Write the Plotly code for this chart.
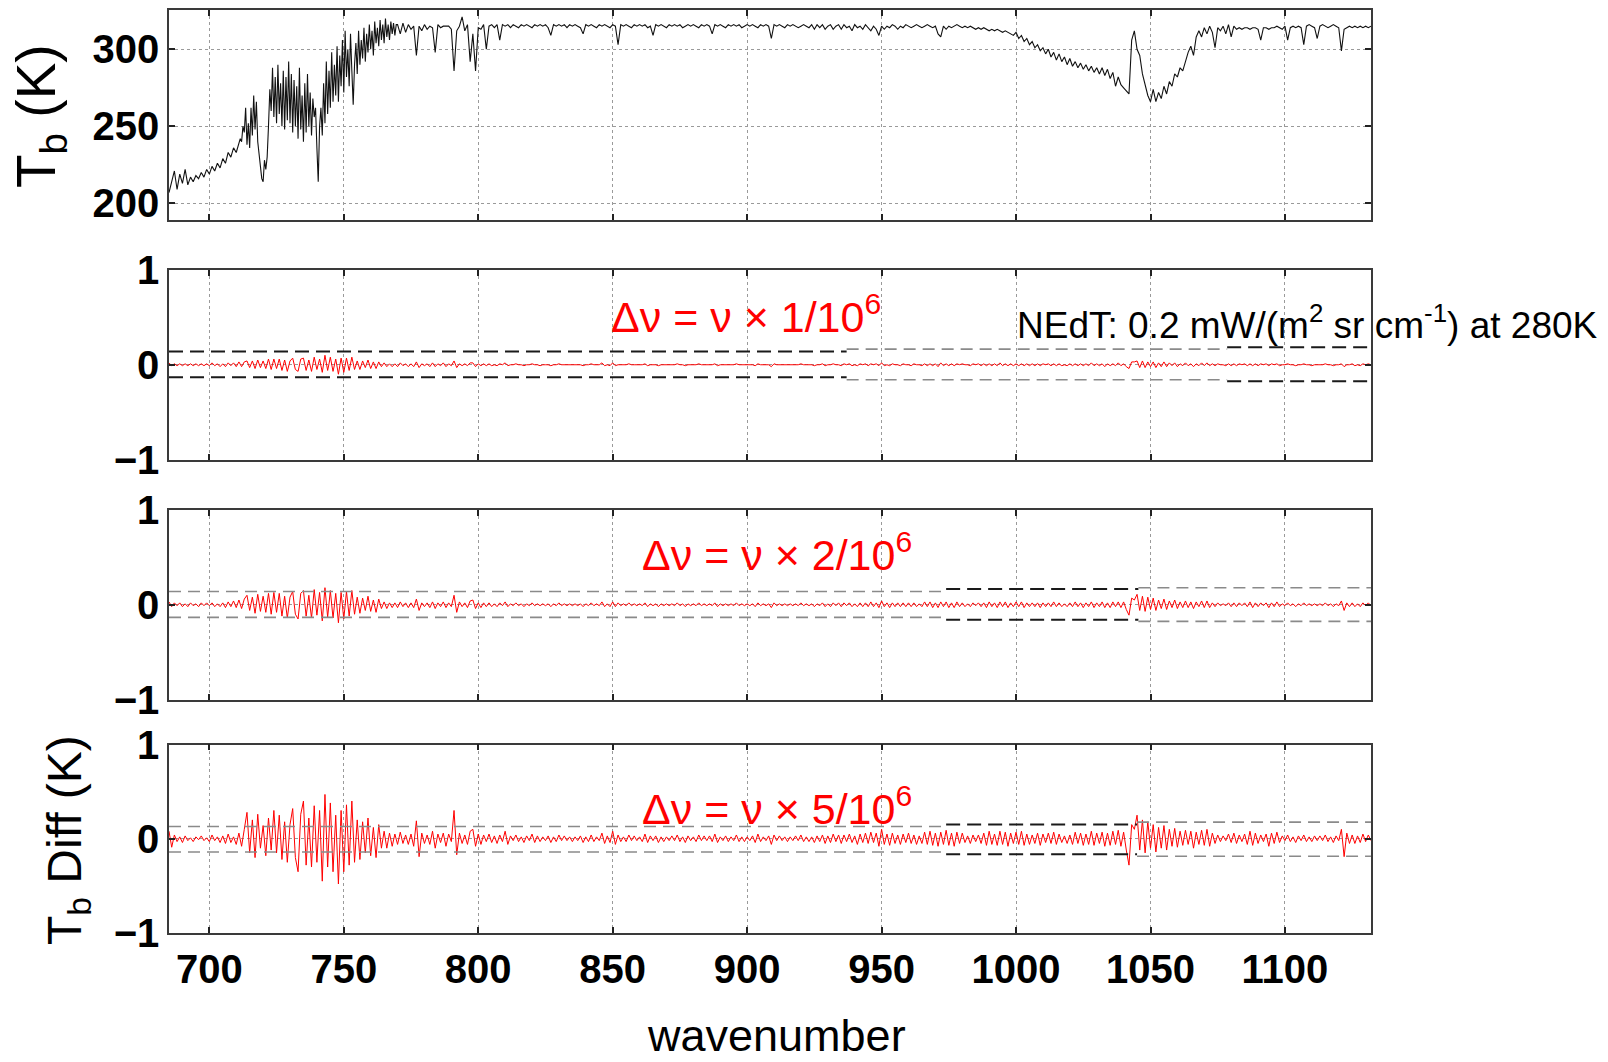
import numpy as np
import plotly.graph_objects as go

# ---------------- data ----------------
X_RANGE = [685.0, 1132.0]
X_TICKS = [700, 750, 800, 850, 900, 950, 1000, 1050, 1100]
TB_TICKS = [200, 250, 300]
TB_RANGE = [189.5, 325.5]
DIFF_TICKS = [-1, 0, 1]
DIFF_RANGE = [-1, 1]

# brightness temperature (K)
# 685 .. 709, every 1 cm-1
TB_A_START, TB_A_STEP = 685.0, 1.0
TB_A = [
    207, 214, 221, 209, 219, 213, 222, 212, 217, 214,
    218, 216, 220, 217, 222, 219, 224, 221, 226, 223,
    229, 226, 233, 230, 236,
]
# 710 .. 769.5, every 0.5 cm-1 (dense CO2 line region)
TB_B_START, TB_B_STEP = 710.0, 0.5
TB_B = [
    233, 236, 238, 242, 240, 250, 246, 262, 238, 252,   # 710
    236, 262, 244, 270, 248, 266, 240, 232, 222, 216,   # 715
    214, 228, 222, 230, 250, 274, 260, 288, 256, 282,   # 720
    252, 290, 258, 278, 250, 286, 248, 282, 254, 292,   # 725
    252, 284, 246, 280, 250, 276, 242, 288, 248, 270,   # 730
    240, 278, 246, 284, 250, 272, 244, 268, 256, 262,   # 735
    236, 214, 250, 262, 244, 278, 252, 292, 258, 286,   # 740
    262, 298, 266, 290, 270, 302, 266, 296, 276, 306,   # 745
    272, 312, 282, 300, 276, 310, 286, 264, 290, 304,   # 750
    284, 312, 290, 306, 294, 314, 292, 310, 298, 316,   # 755
    300, 312, 296, 318, 304, 314, 302, 319, 306, 316,   # 760
    304, 320, 308, 316, 306, 318, 310, 317, 309, 316,   # 765
]
# 770 .. 1132, every 1 cm-1
TB_C_START, TB_C_STEP = 770.0, 1.0
TB_C = [
    316, 310, 317, 311, 316,                            # 770
    313, 315, 296, 315, 312, 316, 313, 315, 314, 298,   # 775
    316, 314, 315, 315, 315, 313, 286, 312, 315, 321,   # 785
    312, 316, 292, 310, 286, 314, 313, 316, 300, 315,   # 795
    316, 314, 316, 306, 316, 315, 316, 314, 316, 315,   # 805
    314, 316, 315, 316, 315, 314, 316, 315, 316, 315,   # 815
    316, 314, 309, 316, 315, 316, 315, 316, 314, 316,   # 825
    315, 316, 315, 314, 310, 316, 315, 316, 315, 314,   # 835
    316, 315, 316, 315, 314, 316, 315, 303, 316, 315,   # 845
    316, 315, 314, 316, 315, 316, 315, 316, 314, 315,   # 855
    309, 316, 315, 316, 315, 314, 316, 315, 316, 315,   # 865
    316, 314, 315, 316, 315, 316, 315, 314, 316, 315,   # 875
    316, 315, 310, 316, 315, 316, 315, 314, 316, 315,   # 885
    316, 315, 316, 314, 315, 316, 315, 316, 315, 314,   # 895
    316, 315, 316, 315, 307, 316, 315, 316, 315, 314,   # 905
    316, 315, 316, 315, 314, 315, 316, 315, 314, 316,   # 915
    313, 316, 314, 316, 313, 315, 316, 313, 315, 316,   # 925
    313, 316, 314, 315, 312, 316, 314, 315, 313, 316,   # 935
    314, 312, 315, 313, 309, 315, 313, 315, 314, 316,   # 945
    315, 313, 315, 314, 316, 315, 314, 315, 316, 315,   # 955
    314, 315, 316, 315, 314, 315, 310, 308, 315, 313,   # 965
    315, 314, 315, 316, 315, 314, 315, 314, 315, 314,   # 975
    313, 314, 313, 314, 313, 312, 313, 312, 313, 312,   # 985
    311, 312, 311, 310, 309, 311, 307, 309, 305, 307,   # 995
    303, 305, 301, 303, 299, 301, 297, 300, 295, 298,   # 1005
    293, 297, 292, 295, 290, 294, 289, 292, 288, 291,   # 1015
    287, 290, 286, 289, 285, 288, 284, 288, 283, 287,   # 1025
    281, 285, 276, 282, 277, 275, 273, 271, 306, 312,   # 1035
    300, 296, 284, 276, 270, 266, 274, 266, 272, 268,   # 1045
    276, 271, 279, 276, 284, 282, 288, 286, 293, 298,   # 1055
    302, 296, 308, 312, 308, 314, 310, 315, 311, 301,   # 1065
    314, 312, 315, 310, 316, 308, 315, 313, 314, 313,   # 1075
    314, 314, 313, 314, 314, 313, 306, 314, 314, 313,   # 1085
    314, 314, 315, 314, 313, 315, 306, 314, 315, 314,   # 1095
    315, 314, 303, 315, 316, 315, 314, 307, 315, 316,   # 1105
    315, 314, 315, 316, 315, 314, 299, 313, 314, 315,   # 1115
    314, 315, 314, 315, 314, 315, 314, 315,             # 1125
]

# Tb differences in units of 0.01 K, one value per wavenumber from 685
D_START, D_STEP = 685.0, 1.0
# dnu = nu x 1/1e6
D1 = [
    2, -1, 1, -1, 1, -1, 1, -1, 1, -1,
    1, -1, 1, -1, 1, -1, 2, -1, 1, -2,
    1, -2, 2, -1, 2, -2, 3, -2, 3, 4,
    -3, 4, -4, 5, -3, 4, -4, 6, -5, 6,
    -4, 6, -6, 5, -7, 4, 7, -5, -7, 6,
    7, -6, 5, -7, 8, -5, 6, -8, 10, -6,
    8, -7, 6, -10, 7, -8, 7, -6, 8, -5,
    4, -5, 4, -3, 5, -4, 3, -4, 3, -2,
    2, -2, 1, -2, 1, -2, 2, -1, 1, -2,
    1, -2, 3, -3, 1, -1, 1, -2, 2, -2,
    1, -1, 2, -2, 1, -1, 4, -3, 1, -1,
    1, -1, 2, 2, -2, 1, -1, 1, -1, 1,
    -1, 0, -1, 1, 0, 2, -1, 0, 0, 1,
    0, 0, -1, 0, 0, 1, 0, 0, -1, 0,
    0, 0, -1, 0, 0, 1, 0, 0, 0, 0,
    0, 0, 0, 0, -1, 0, 0, 1, 0, 0,
    0, 2, -1, 0, -1, 2, -1, 0, 0, 0,
    0, 1, 0, 0, 0, 0, 0, 1, -1, 0,
    0, 0, -1, 0, 0, 0, 0, 0, 0, 1,
    0, 0, -1, 0, 0, 0, 0, 1, 0, 0,
    0, 0, 0, 1, -1, 0, 0, 0, 0, 0,
    0, 1, 0, 0, 0, 0, 0, 0, -1, 1,
    0, 0, 0, 0, -2, 1, 0, 0, 0, 0,
    0, 0, 0, 0, 0, 1, 0, 0, 0, 0,
    -1, 0, 0, 1, -1, 0, 0, 1, 0, 0,
    -1, 1, 0, 1, -1, 0, -1, 1, 0, 1,
    -1, 1, 0, 1, -1, 2, -1, 0, -1, 1,
    0, 0, -1, 1, 0, 0, -1, 1, 0, 0,
    -1, 1, -1, 1, -1, 1, -2, 2, -1, 1,
    -1, 1, -1, 1, 0, 1, 0, 0, -1, 1,
    0, 1, -1, 1, -1, 1, -1, 1, -1, 2,
    -1, 1, -1, 1, -1, 1, -1, 1, -1, 1,
    -1, 1, -1, 1, -1, 1, 0, 1, -1, 1,
    -1, 1, -1, 0, -1, 1, -1, 1, -1, 1,
    -1, 1, -1, 2, -1, 1, -1, 1, -2, 1,
    -1, 1, -1, 2, -1, 1, -2, -4, 3, 3,
    4, -3, 4, -3, 3, -2, 3, -3, 2, -2,
    3, -2, 2, -1, 2, -2, 1, -1, 2, -1,
    1, -2, 1, -1, 2, -1, 2, -1, 1, -1,
    1, 0, 0, -1, 1, -1, 1, -1, 1, 0,
    1, -1, 1, -1, 1, -1, 1, 0, 1, -1,
    1, 0, 1, -1, 0, 0, 1, 0, 0, -1,
    0, 0, 1, 0, 0, -1, 0, 0, 0, 0,
    1, 0, 0, -1, 0, 0, 1, -2, 0, 0,
    1, -1, 0, -1, 1, 0, 1, 0,
]

# dnu = nu x 2/1e6
D2 = [
    3, -2, 2, -1, 2, -2, 1, -2, 2, -1,
    1, -2, 2, -1, 2, -1, 2, -2, 1, -2,
    2, -3, 3, -2, 4, -3, 5, -4, 6, 10,
    -6, 8, -9, 11, -7, 9, -8, 12, -10, 13,
    -8, 12, -12, 9, -14, 8, 14, -10, -15, 12,
    15, -12, 10, -14, 16, -11, 13, -17, 18, -13,
    15, -14, 12, -19, 13, -15, 14, -12, 15, -10,
    8, -9, 7, -6, 9, -7, 5, -8, 6, -4,
    3, -4, 2, -3, 2, -3, 3, -2, 2, -3,
    2, -3, 6, -6, 2, -2, 2, -3, 3, -4,
    2, -2, 3, -3, 2, -2, 10, -8, 3, -2,
    2, -3, 4, 5, -4, 2, -3, 2, -2, 2,
    -2, 1, -2, 2, -1, 3, -2, 1, -1, 2,
    -1, 1, -2, 1, -1, 2, -1, 1, -1, 1,
    -1, 1, -2, 1, -1, 2, -1, 1, -1, 1,
    -1, 1, -1, 1, -2, 1, -1, 2, -1, 1,
    -1, 3, -2, 1, -2, 3, -2, 2, -1, 1,
    -1, 2, -1, 1, -1, 1, -1, 2, -2, 1,
    -1, 1, -2, 1, -1, 1, -1, 1, -1, 2,
    -1, 1, -2, 1, -1, 1, -1, 2, -1, 1,
    -1, 1, -1, 2, -2, 1, -1, 1, -1, 1,
    -1, 2, -1, 1, -1, 1, -1, 1, -2, 2,
    -1, 1, -1, 1, -3, 2, -1, 1, -1, 1,
    -1, 1, -1, 1, -1, 2, -1, 1, -1, 1,
    -2, 1, -1, 2, -2, 1, -2, 2, -1, 2,
    -2, 2, -1, 2, -2, 1, -2, 2, -2, 2,
    -2, 3, -2, 2, -3, 4, -2, 2, -3, 2,
    -2, 2, -2, 2, -2, 2, -2, 2, -2, 1,
    -2, 3, -2, 3, -3, 2, -3, 3, -2, 3,
    -3, 2, -3, 3, -2, 2, -2, 1, -2, 2,
    -1, 2, -2, 2, -3, 3, -2, 2, -3, 3,
    -2, 3, -3, 2, -2, 3, -2, 3, -3, 2,
    -2, 2, -2, 2, -3, 2, -2, 2, -2, 3,
    -2, 2, -2, 1, -2, 2, -2, 3, -2, 2,
    -3, 2, -2, 3, -3, 2, -2, 3, -3, 2,
    -3, 3, -2, 3, -3, 3, -5, -11, 7, 5,
    11, -6, 9, -7, 8, -5, 7, -6, 5, -4,
    6, -5, 4, -3, 5, -4, 3, -3, 4, -3,
    3, -4, 3, -2, 4, -3, 4, -3, 2, -2,
    2, -1, 1, -1, 2, -2, 2, -2, 2, -1,
    2, -2, 3, -3, 2, -2, 2, -1, 2, -3,
    2, -2, 3, -2, 1, -1, 2, -1, 1, -2,
    1, -1, 2, -1, 1, -1, 1, -1, 1, -1,
    2, -1, 1, -2, 1, -1, 4, -6, 2, -2,
    2, -2, 1, -2, 2, -1, 2, -1,
]

# dnu = nu x 5/1e6
D5 = [
    8, -9, 4, -3, 2, -4, 3, -2, 1, -3,
    2, -1, 3, -2, 1, -3, 4, -2, 2, -4,
    3, -5, 5, -4, 2, -6, 6, -8, 10, 28,
    -15, 20, -20, 26, -10, 14, -18, 22, -12, 30,
    -15, 25, -22, 18, -25, 15, 32, -20, -35, 26,
    40, -28, 22, -30, 35, -25, 30, -45, 47, -30,
    38, -35, 25, -48, 30, -35, 36, -28, 40, -25,
    20, -22, 18, -15, 22, -18, 12, -20, 15, -10,
    8, -10, 6, -8, 5, -6, 7, -5, 4, -6,
    5, -8, 19, -19, 6, -5, 4, -6, 8, -10,
    5, -4, 6, -8, 5, -3, 30, -17, 6, -5,
    4, -6, 8, 10, -8, 5, -6, 4, -3, 5,
    -4, 3, -5, 4, -3, 8, -6, 3, -2, 4,
    -3, 2, -4, 3, -2, 5, -4, 3, -3, 2,
    -2, 3, -4, 2, -3, 4, -2, 3, -2, 2,
    -3, 2, -2, 3, -4, 2, -3, 4, -3, 2,
    -2, 6, -5, 3, -4, 8, -6, 4, -3, 2,
    -3, 4, -2, 3, -2, 2, -3, 5, -4, 3,
    -2, 3, -4, 2, -3, 2, -2, 3, -2, 4,
    -3, 2, -4, 3, -2, 2, -3, 4, -2, 3,
    -2, 3, -3, 5, -4, 2, -2, 3, -3, 2,
    -2, 4, -3, 2, -3, 2, -2, 3, -4, 5,
    -3, 2, -2, 3, -6, 4, -2, 3, -2, 2,
    -3, 2, -2, 3, -2, 4, -3, 2, -3, 2,
    -4, 3, -3, 4, -5, 3, -4, 5, -3, 4,
    -5, 4, -3, 5, -4, 3, -6, 5, -4, 6,
    -5, 7, -4, 6, -8, 10, -6, 5, -7, 6,
    -5, 4, -6, 5, -4, 6, -5, 4, -6, 3,
    -5, 7, -6, 8, -7, 6, -8, 7, -6, 9,
    -7, 6, -8, 7, -5, 6, -4, 3, -5, 4,
    -3, 4, -5, 6, -7, 8, -6, 5, -7, 8,
    -6, 7, -8, 6, -5, 7, -6, 8, -7, 5,
    -6, 4, -5, 6, -7, 5, -4, 6, -5, 7,
    -6, 5, -4, 3, -5, 4, -6, 7, -5, 6,
    -7, 5, -6, 8, -7, 6, -5, 7, -8, 6,
    -7, 8, -6, 9, -8, 7, -12, -28, 15, 10,
    25, -12, 20, -15, 18, -10, 15, -14, 12, -10,
    14, -12, 10, -8, 11, -9, 8, -7, 9, -6,
    8, -10, 7, -6, 9, -7, 10, -8, 6, -5,
    4, -3, 3, -2, 5, -4, 6, -5, 4, -3,
    5, -6, 8, -7, 6, -5, 4, -3, 5, -8,
    6, -5, 7, -4, 3, -2, 4, -3, 2, -4,
    3, -2, 4, -3, 2, -3, 3, -2, 3, -2,
    4, -3, 2, -4, 3, -2, 10, -19, 6, -5,
    4, -5, 3, -4, 5, -3, 4, -2,
]

# NEdT bounds (K): band edges, upper/lower levels and shading per band
P2_EDGES = [685.0, 937.0, 1078.5, 1132.0]
P2_UP = [0.14, 0.165, 0.186]
P2_LO = [-0.133, -0.158, -0.175]
P2_DARK = [True, False, True]

P3_EDGES = [685.0, 974.0, 1045.5, 1132.0]
P3_UP = [0.14, 0.165, 0.18]
P3_LO = [-0.133, -0.158, -0.175]
P3_DARK = [False, True, False]

P4_EDGES = [685.0, 974.0, 1045.0, 1132.0]
P4_UP = [0.13, 0.15, 0.176]
P4_LO = [-0.14, -0.164, -0.185]
P4_DARK = [False, True, False]

LABEL_1 = 'Δν = ν × 1/10<sup>6</sup>'
LABEL_2 = 'Δν = ν × 2/10<sup>6</sup>'
LABEL_5 = 'Δν = ν × 5/10<sup>6</sup>'
NEDT_LABEL = 'NEdT: 0.2 mW/(m<sup>2</sup> sr cm<sup>-1</sup>) at 280K'

# ---------------- figure ----------------
FIG_W, FIG_H = 1608, 1062
L_PX, R_PX, T_PX, B_PX = 169, 1371, 10, 933

def px_x(px):
    return (px - L_PX) / (R_PX - L_PX)

def px_y(py):
    return (B_PX - py) / (B_PX - T_PX)

wn_tb = np.concatenate([
    TB_A_START + TB_A_STEP * np.arange(len(TB_A)),
    TB_B_START + TB_B_STEP * np.arange(len(TB_B)),
    TB_C_START + TB_C_STEP * np.arange(len(TB_C)),
])
tb = np.array(TB_A + TB_B + TB_C, dtype=float)

fig = go.Figure()

fig.add_trace(go.Scatter(x=wn_tb, y=tb, mode='lines',
                         line=dict(color='#111111', width=1.1),
                         xaxis='x', yaxis='y', showlegend=False, hoverinfo='skip'))

panels = [
    ('x2', 'y2', D1, P2_EDGES, P2_UP, P2_LO, P2_DARK),
    ('x3', 'y3', D2, P3_EDGES, P3_UP, P3_LO, P3_DARK),
    ('x4', 'y4', D5, P4_EDGES, P4_UP, P4_LO, P4_DARK),
]
for xa, ya, d, edges, up, lo, dark in panels:
    wn_d = D_START + D_STEP * np.arange(len(d))
    fig.add_trace(go.Scatter(x=wn_d, y=np.array(d) / 100.0, mode='lines',
                             line=dict(color='#ff0000', width=1.0),
                             xaxis=xa, yaxis=ya, showlegend=False, hoverinfo='skip'))
    for i in range(len(up)):
        style = dict(color='#1a1a1a', width=2.0, dash='14px,7px') if dark[i] else \
            dict(color='#8a8a8a', width=1.6, dash='12px,7px')
        for lvl in (up[i], lo[i]):
            fig.add_trace(go.Scatter(x=[edges[i], edges[i + 1]], y=[lvl, lvl], mode='lines',
                                     line=style, xaxis=xa, yaxis=ya,
                                     showlegend=False, hoverinfo='skip'))

tick_font = dict(family='Liberation Sans, Arial, sans-serif', size=40, color='black', weight='bold')
axis_common = dict(showline=True, linecolor='#3a3a3a', linewidth=1.5, mirror='ticks',
                   ticks='inside', ticklen=6, tickwidth=1.6, tickcolor='#222222',
                   showgrid=True, gridcolor='#9a9a9a', griddash='dot', gridwidth=1,
                   zeroline=False, tickfont=tick_font, automargin=False)

# panel pixel extents (top, bottom)
panel_px = [(10, 219.5), (270, 459.5), (510, 699.5), (744.5, 933)]
domains = [[px_y(b), px_y(t)] for t, b in panel_px]

layout = dict(width=FIG_W, height=FIG_H, plot_bgcolor='white', paper_bgcolor='white',
              margin=dict(l=L_PX, r=FIG_W - R_PX, t=T_PX, b=FIG_H - B_PX, pad=0,
                          autoexpand=False),
              font=dict(family='Liberation Sans, Arial, sans-serif', color='black'),
              showlegend=False)

for k in range(4):
    sx = '' if k == 0 else str(k + 1)
    xa = dict(axis_common, anchor='y' + sx, domain=[0, 1], range=X_RANGE,
              tickvals=X_TICKS, showticklabels=(k == 3))
    if k > 0:
        xa['matches'] = 'x'
    ya = dict(axis_common, anchor='x' + sx, domain=domains[k])
    if k == 0:
        ya.update(range=TB_RANGE, tickvals=TB_TICKS)
    else:
        ya.update(range=DIFF_RANGE, tickvals=DIFF_TICKS)
    layout['xaxis' + sx] = xa
    layout['yaxis' + sx] = ya

fig.update_layout(**layout)

title_font = dict(family='Liberation Sans, Arial, sans-serif', size=48, color='black')
red_font = dict(family='Liberation Sans, Arial, sans-serif', size=43, color='#ff0000')

ann = [
    dict(text='T<sub>b</sub> (K)', x=px_x(40), y=px_y(116), textangle=-90,
         font=dict(title_font, size=55)),
    dict(text='T<sub>b</sub> Diff (K)', x=px_x(68), y=px_y(840), textangle=-90, font=title_font),
    dict(text='wavenumber', x=px_x(776), y=px_y(1035), font=dict(title_font, size=45)),
    dict(text=LABEL_1, x=px_x(746), y=px_y(314), font=red_font),
    dict(text=LABEL_2, x=px_x(777), y=px_y(552), font=red_font),
    dict(text=LABEL_5, x=px_x(777), y=px_y(806), font=red_font),
    dict(text=NEDT_LABEL, x=px_x(1015), y=px_y(322), xanchor='left',
         font=dict(family='Liberation Sans, Arial', size=37, color='black')),
]
for a in ann:
    a.setdefault('xanchor', 'center')
    fig.add_annotation(xref='paper', yref='paper', showarrow=False, yanchor='middle', **a)

fig.write_html('out.html')
